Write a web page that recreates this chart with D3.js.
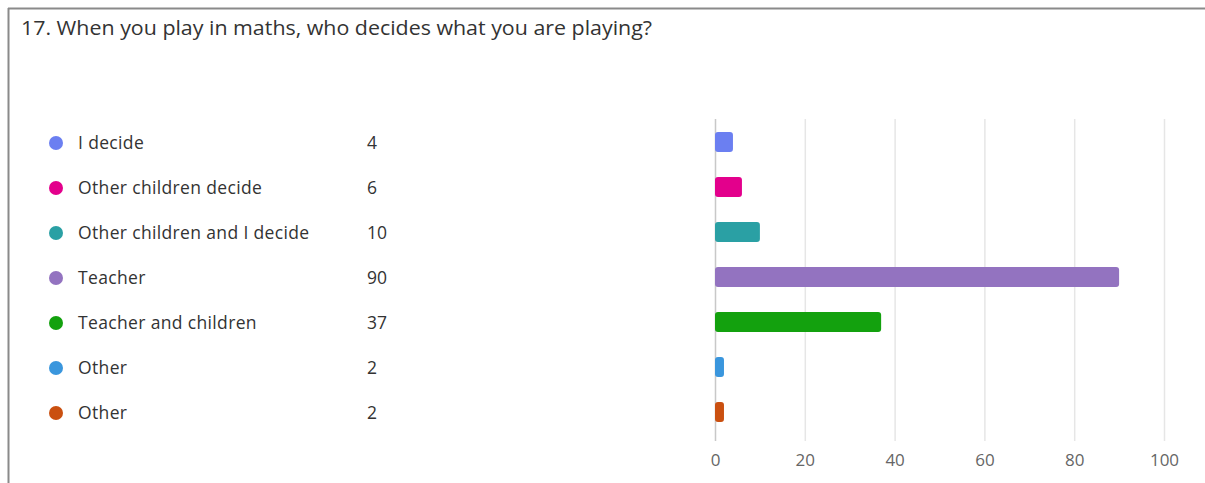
<!DOCTYPE html>
<html><head><meta charset="utf-8">
<script src="https://cdn.jsdelivr.net/npm/d3@7"></script>
<style>
html,body{margin:0;padding:0;background:#fff;}
svg{display:block;}
text{font-family:"Open Sans","Noto Sans",sans-serif;}
</style></head>
<body>
<svg id="c" width="1205" height="483"></svg>
<script>
const title = "17. When you play in maths, who decides what you are playing?";
const categories = ["I decide","Other children decide","Other children and I decide","Teacher","Teacher and children","Other","Other"];
const values = [4,6,10,90,37,2,2];
const colors = ["#6b7ff1","#e3008c","#2aa0a4","#9373c0","#13a10e","#3a96dd","#ca5010"];
const xTicks = [0,20,40,60,80,100];

const svg = d3.select("#c");
// frame
svg.append("line").attr("x1",8).attr("x2",1205).attr("y1",8.5).attr("y2",8.5).attr("stroke","#8a8a8a").attr("stroke-width",2);
svg.append("line").attr("x1",8.5).attr("x2",8.5).attr("y1",8).attr("y2",483).attr("stroke","#8a8a8a").attr("stroke-width",2);

svg.append("text").attr("x",21).attr("y",35).attr("font-size",20).attr("fill","#333")
  .attr("textLength",631).attr("lengthAdjust","spacingAndGlyphs").text(title);

const idx = d3.range(categories.length);
const y = d3.scaleBand().domain(idx).range([119.5,434.5]).paddingInner(0.56).paddingOuter(0.28);
const x = d3.scaleLinear().domain([0,100]).range([715,1164]);

// gridlines
svg.append("g").selectAll("line").data(xTicks).join("line")
  .attr("x1",d=>x(d)+0.5).attr("x2",d=>x(d)+0.5).attr("y1",119).attr("y2",441)
  .attr("stroke",d=>d===0?"#c8c8c8":"#e6e6e6").attr("stroke-width",1.5);

// axis labels
const ax = svg.append("g").attr("transform","translate(0,441)").call(d3.axisBottom(x).tickValues(xTicks).tickSize(0).tickPadding(13));
ax.select(".domain").remove();
ax.selectAll("text").attr("font-size",17).attr("fill","#666").attr("font-family","'Open Sans','Noto Sans',sans-serif");

// bars
svg.append("g").selectAll("rect").data(idx).join("rect")
  .attr("x",x(0)).attr("y",i=>y(i)).attr("width",i=>x(values[i])-x(0)).attr("height",y.bandwidth())
  .attr("rx",3).attr("fill",i=>colors[i]);

// legend
const lg = svg.append("g").selectAll("g").data(idx).join("g")
  .attr("transform",i=>`translate(0,${y(i)+y.bandwidth()/2})`);
lg.append("circle").attr("cx",56).attr("cy",1).attr("r",7).attr("fill",i=>colors[i]);
lg.append("text").attr("x",78).attr("y",7).attr("font-size",17.5).attr("fill","#333")
  .style("letter-spacing","0.35px").text(i=>categories[i]);
lg.append("text").attr("x",367).attr("y",7).attr("font-size",17.5).attr("fill","#333").text(i=>values[i]);
</script>
</body></html>
